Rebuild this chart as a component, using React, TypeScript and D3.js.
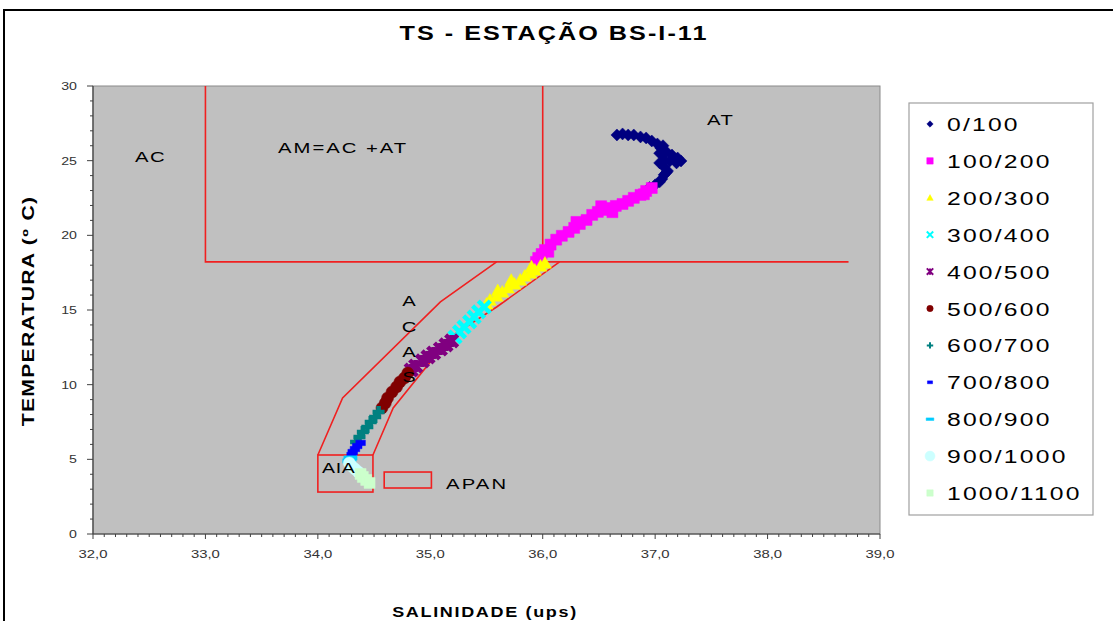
import React from 'react';
import * as d3 from 'd3';

const W = 1113;
const H = 621;

// Depth bins (m) shown in the legend
const depthBins = ['0/100', '100/200', '200/300', '300/400', '400/500', '500/600', '600/700', '700/800', '800/900', '900/1000', '1000/1100'];
const binColors = ['#000080', '#FF00FF', '#FFFF00', '#00FFFF', '#800080', '#800000', '#008080', '#0000FF', '#00CCFF', '#CCFFFF', '#CCFFCC'];
const binSymbols = ['diamond', 'square', 'triangle', 'x', 'star', 'circle', 'plus', 'dash', 'longdash', 'circle', 'square'];

// [salinity (ups), temperature (°C)] per depth bin
const s0_100: [number, number][] = [
  [36.66, 26.72], [36.71, 26.79], [36.76, 26.72], [36.81, 26.72], [36.87, 26.59], [36.92, 26.52],
  [36.97, 26.32], [37.02, 26.12], [37.05, 25.85], [37.1, 25.59], [37.15, 25.38], [37.2, 25.18],
  [37.23, 24.98], [37.19, 24.85], [37.13, 24.98], [37.08, 25.05], [37.04, 24.85], [37.08, 24.58],
  [37.11, 24.31], [37.08, 24.05], [37.06, 23.78], [37.04, 23.58], [37.0, 23.38], [37.04, 25.5],
  [37.07, 26.0], [37.1, 24.2], [36.95, 23.2],
];
const s100_200: [number, number][] = [
  [36.97, 23.17], [36.92, 22.97], [36.87, 22.71], [36.81, 22.51], [36.76, 22.31], [36.71, 22.1],
  [36.65, 21.97], [36.6, 21.83], [36.55, 21.7], [36.49, 21.57], [36.44, 21.37], [36.39, 21.03],
  [36.33, 20.76], [36.28, 20.5], [36.23, 20.23], [36.17, 19.97], [36.12, 19.71], [36.07, 19.38],
  [36.02, 19.02], [35.99, 18.75], [35.96, 18.49], [35.94, 18.22], [36.62, 21.55], [36.52, 21.95],
  [36.05, 18.9], [36.9, 22.75], [36.3, 20.9],
];
const s200_300: [number, number][] = [
  [36.02, 18.15], [35.98, 17.95], [35.93, 17.68], [35.89, 17.48], [35.84, 17.28], [35.8, 17.01],
  [35.75, 16.74], [35.69, 16.48], [35.64, 16.21], [35.59, 15.94], [35.53, 15.67], [35.5, 15.41],
  [35.9, 17.9], [35.72, 17.0], [35.6, 16.3],
];
const s300_400: [number, number][] = [
  [35.48, 15.2], [35.43, 14.87], [35.39, 14.53], [35.35, 14.2], [35.3, 13.86], [35.26, 13.53], [35.22, 13.19],
];
const s400_500: [number, number][] = [
  [35.19, 12.93], [35.14, 12.66], [35.09, 12.39], [35.03, 12.12], [34.98, 11.86], [34.93, 11.59],
  [34.87, 11.25], [34.83, 10.98],
];
const s500_600: [number, number][] = [
  [34.8, 10.78], [34.77, 10.45], [34.73, 10.18], [34.7, 9.85], [34.66, 9.51], [34.62, 9.11],
  [34.6, 8.77], [34.57, 8.44],
];
const s600_700: [number, number][] = [
  [34.54, 8.17], [34.51, 7.84], [34.47, 7.5], [34.44, 7.17], [34.4, 6.83], [34.37, 6.5], [34.34, 6.16],
];
const s700_800: [number, number][] = [
  [34.38, 6.1], [34.35, 5.89], [34.33, 5.69], [34.31, 5.49], [34.3, 5.29],
];
const s800_900: [number, number][] = [[34.29, 5.09], [34.28, 4.89]];
const s900_1000: [number, number][] = [[34.28, 4.76], [34.3, 4.55], [34.33, 4.35], [34.36, 4.15]];
const s1000_1100: [number, number][] = [[34.38, 4.02], [34.4, 3.82], [34.43, 3.62], [34.46, 3.42]];

const tsSeries = [s0_100, s100_200, s200_300, s300_400, s400_500, s500_600, s600_700, s700_800, s800_900, s900_1000, s1000_1100];

// Axis ticks
const salTicks = [32, 33, 34, 35, 36, 37, 38, 39];
const tempTicks = [0, 5, 10, 15, 20, 25, 30];

// Water-mass boundaries
const amLeftEdge: [number, number][] = [[33.0, 30], [33.0, 18.22], [38.72, 18.22]];
const amRightEdge: [number, number][] = [[36.0, 30], [36.0, 18.22]];
const acasUpper: [number, number][] = [[35.59, 18.22], [35.09, 15.54], [34.22, 9.11], [34.0, 5.29]];
const acasLower: [number, number][] = [[34.49, 5.29], [34.67, 8.44], [35.18, 13.2], [35.59, 15.2], [36.15, 18.22]];
const aiaBox = { s0: 34.0, s1: 34.49, t0: 2.81, t1: 5.29 };
const apanBox = { s0: 34.59, s1: 35.01, t0: 3.08, t1: 4.15 };

const FONT = 'Liberation Sans, Arial, Helvetica, sans-serif';

const x = d3.scaleLinear().domain([32, 39]).range([93, 880]);
const y = d3.scaleLinear().domain([0, 30]).range([534, 86]);

function markerPath(kind: string, r: number): { d: string; filled: boolean } {
  switch (kind) {
    case 'diamond':
      return { d: `M0,${-r}L${r},0L0,${r}L${-r},0Z`, filled: true };
    case 'square':
      return { d: `M${-r},${-r}h${2 * r}v${2 * r}h${-2 * r}Z`, filled: true };
    case 'triangle':
      return { d: `M0,${-r}L${r},${r * 0.8}L${-r},${r * 0.8}Z`, filled: true };
    case 'x':
      return { d: `M${-r},${-r}L${r},${r}M${-r},${r}L${r},${-r}`, filled: false };
    case 'star':
      return { d: `M${-r},${-r}L${r},${r}M${-r},${r}L${r},${-r}M0,${-r}V${r}`, filled: false };
    case 'circle':
      return { d: `M${r},0A${r},${r},0,1,1,${-r},0A${r},${r},0,1,1,${r},0Z`, filled: true };
    case 'plus':
      return { d: `M${-r},0H${r}M0,${-r}V${r}`, filled: false };
    case 'dash':
      return { d: `M${-r * 0.8},${-r * 0.45}h${1.6 * r}v${0.9 * r}h${-1.6 * r}Z`, filled: true };
    case 'longdash':
      return { d: `M${-r * 1.2},${-r * 0.4}h${2.4 * r}v${0.8 * r}h${-2.4 * r}Z`, filled: true };
    default:
      return { d: '', filled: true };
  }
}

function Marker({ kind, r, color, cx, cy, sw }: { kind: string; r: number; color: string; cx: number; cy: number; sw: number }) {
  const m = markerPath(kind, r);
  return (
    <path
      d={m.d}
      transform={`translate(${cx},${cy})`}
      fill={m.filled ? color : 'none'}
      stroke={color}
      strokeWidth={m.filled ? 0.5 : sw}
    />
  );
}

function SText(props: {
  x: number; y: number; size: number; sx?: number; weight?: string | number; anchor?: string;
  fill?: string; rotate?: number; ls?: number; children: React.ReactNode;
}) {
  const { x: tx, y: ty, size, sx = 1.3, weight = 'normal', anchor = 'start', fill = '#000', rotate, ls = 0 } = props;
  const tr = `translate(${tx},${ty})${rotate ? ` rotate(${rotate})` : ''} scale(${sx},1)`;
  return (
    <text transform={tr} fontSize={size} fontWeight={weight} textAnchor={anchor} fill={fill}
      fontFamily={FONT} letterSpacing={ls}>
      {props.children}
    </text>
  );
}

// Symbol half-size on the plot; bigger shapes for the thin stroke-only markers
const plotRadius = [6, 5.5, 6.5, 6, 6, 6, 6, 6, 5.5, 6, 5.5];

export default function App() {
  const line = d3.line<[number, number]>().x((d) => x(d[0])).y((d) => y(d[1]));
  const [x0, x1] = x.range();
  const [y0, y1] = y.range();

  const salMinor = d3.range(32, 39.0001, 0.1);
  const tempMinor = d3.range(0, 30.0001, 1);

  const red = '#f02020';

  return (
    <svg width={W} height={H} style={{ position: 'absolute', left: 0, top: 0, background: '#fff' }}>
      <rect x={0} y={0} width={W} height={H} fill="#fff" />
      {/* outer chart frame */}
      <path d={`M4,${H}V10H${W}`} fill="none" stroke="#000" strokeWidth={2} />

      <SText x={554} y={40} size={21} weight="bold" anchor="middle" sx={1.2} ls={1.7}>
        TS - ESTAÇÃO BS-I-11
      </SText>

      {/* plot area */}
      <rect x={x0} y={y1} width={x1 - x0} height={y0 - y1} fill="#c0c0c0" stroke="#8a8a8a" strokeWidth={1} />

      {/* water-mass boundaries */}
      <g fill="none" stroke={red} strokeWidth={1.6}>
        <path d={line(amLeftEdge) || ''} />
        <path d={line(amRightEdge) || ''} />
        <path d={line(acasUpper) || ''} />
        <path d={line(acasLower) || ''} />
        <rect x={x(aiaBox.s0)} y={y(aiaBox.t1)} width={x(aiaBox.s1) - x(aiaBox.s0)} height={y(aiaBox.t0) - y(aiaBox.t1)} />
        <rect x={x(apanBox.s0)} y={y(apanBox.t1)} width={x(apanBox.s1) - x(apanBox.s0)} height={y(apanBox.t0) - y(apanBox.t1)} />
      </g>

      {/* TS points */}
      {tsSeries.map((series, i) => (
        <g key={depthBins[i]}>
          {series.map((p, j) => (
            <Marker key={j} kind={binSymbols[i]} r={plotRadius[i]} color={binColors[i]} cx={x(p[0])} cy={y(p[1])} sw={4.5} />
          ))}
        </g>
      ))}

      {/* region labels */}
      <g>
        <SText x={135} y={162} size={15} sx={1.35} ls={1.2}>AC</SText>
        <SText x={278} y={153} size={15} sx={1.35} ls={1.5}>AM=AC +AT</SText>
        <SText x={707} y={125} size={15} sx={1.35} ls={1.2}>AT</SText>
        <SText x={409} y={306} size={15} sx={1.35} anchor="middle">A</SText>
        <SText x={409} y={332} size={15} sx={1.35} anchor="middle">C</SText>
        <SText x={409} y={357} size={15} sx={1.35} anchor="middle">A</SText>
        <SText x={409} y={382} size={15} sx={1.35} anchor="middle">S</SText>
        <SText x={322} y={473} size={15} sx={1.3} ls={0.5}>AIA</SText>
        <SText x={446} y={489} size={15} sx={1.35} ls={1.6}>APAN</SText>
      </g>

      {/* axes */}
      <line x1={x0} x2={x0} y1={y1} y2={y0} stroke="#404040" strokeWidth={1.2} />
      <line x1={x0} x2={x1} y1={y0} y2={y0} stroke="#404040" strokeWidth={1.2} />
      {tempMinor.map((t) => (
        <line key={`ty${t}`} x1={x0 - (t % 5 === 0 ? 6 : 3)} x2={x0} y1={y(t)} y2={y(t)} stroke="#404040" strokeWidth={1} />
      ))}
      {salMinor.map((s, k) => (
        <line key={`sx${k}`} x1={x(s)} x2={x(s)} y1={y0} y2={y0 + (k % 10 === 0 ? 5 : 3)} stroke="#404040" strokeWidth={1} />
      ))}
      {tempTicks.map((t) => (
        <SText key={`tl${t}`} x={77} y={y(t) + 4} size={10.5} sx={1.35} anchor="end" fill="#333">{String(t)}</SText>
      ))}
      {salTicks.map((s) => (
        <SText key={`sl${s}`} x={x(s)} y={558} size={11} sx={1.35} anchor="middle" fill="#333">
          {d3.format('.1f')(s).replace('.', ',')}
        </SText>
      ))}

      <SText x={34} y={311} size={16} weight="bold" rotate={-90} sx={1.32} ls={1} anchor="middle">
        TEMPERATURA (º C)
      </SText>
      <SText x={485} y={617} size={15} weight="bold" sx={1.2} ls={1.4} anchor="middle">
        SALINIDADE (ups)
      </SText>

      {/* legend */}
      <rect x={909} y={103} width={184} height={412} fill="#fff" stroke="#a0a0a0" strokeWidth={1.2} />
      {depthBins.map((b, i) => {
        const cy = 124 + i * 36.9;
        return (
          <g key={`lg${b}`}>
            <Marker kind={binSymbols[i]} r={i === 9 ? 5 : 3.2} color={binColors[i]} cx={930} cy={cy} sw={2} />
            <SText x={947} y={cy + 7} size={19} sx={1.3} ls={1.7}>{b}</SText>
          </g>
        );
      })}
    </svg>
  );
}
